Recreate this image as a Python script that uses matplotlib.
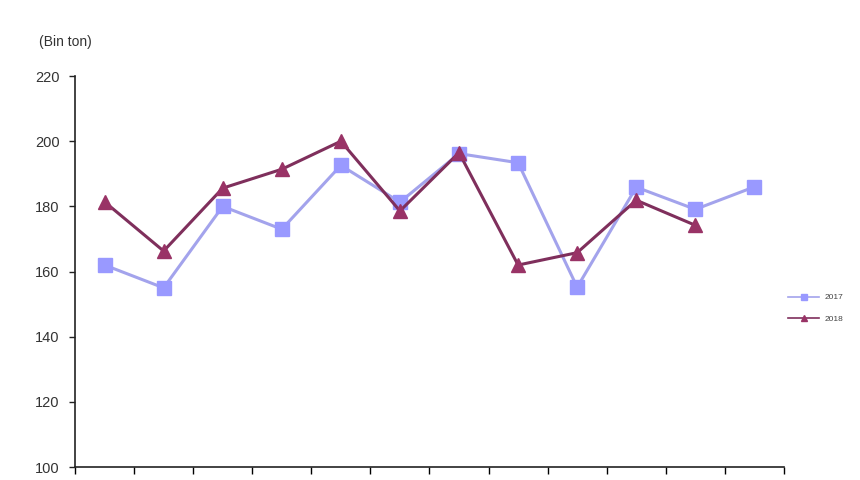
import numpy as np
import matplotlib
matplotlib.use('Agg')
import matplotlib.pyplot as plt

plt.rcParams['font.family'] = ['Liberation Sans', 'DejaVu Sans']

# Monthly output (Bin ton)
months = ['T1', 'T2', 'T3', 'T4', 'T5', 'T6', 'T7', 'T8', 'T9', 'T10', 'T11', 'T12']
values_2017 = [162, 155, 180, 173, 192.6, 181.3, 196.2, 193.4, 155.2, 185.9, 179.1, 186]
values_2018 = [181.4, 166.3, 185.6, 191.4, 200, 178.6, 196.5, 162, 165.8, 181.9, 174.2]

fig = plt.figure(figsize=(8.6, 4.8), dpi=100)
ax = fig.add_axes([0.0872, 0.027, 0.8244, 0.8145])

x17 = np.arange(len(values_2017))
x18 = np.arange(len(values_2018))

ax.plot(x17, values_2017, color='#A3A3EC', lw=2.2, marker='s', ms=10.5,
        mfc='#9999FF', mec='#9999FF', label='2017')
ax.plot(x18, values_2018, color='#7F2F5C', lw=2.2, marker='^', ms=10,
        mfc='#993366', mec='#993366', label='2018')

ax.set_xlim(-0.5, len(months) - 0.5)
ax.set_ylim(100, 220)
ax.set_yticks(np.arange(100, 221, 20))
ax.set_xticks(np.arange(-0.5, len(months), 1.0))
ax.set_xticklabels([])
ax.tick_params(axis='y', direction='out', length=4, width=1, labelsize=10.5,
               colors='#222222', labelcolor='#333333', pad=7)
ax.tick_params(axis='x', direction='out', length=5, width=1)
for side in ('top', 'right'):
    ax.spines[side].set_visible(False)
for side in ('left', 'bottom'):
    ax.spines[side].set_linewidth(1.2)
    ax.spines[side].set_color('#222222')

fig.text(0.045, 0.905, '(Bin ton)', fontsize=10, color='#333333')

leg = fig.legend(loc='center left', bbox_to_anchor=(0.908, 0.358),
                 frameon=False, fontsize=6, handlelength=3.7, handletextpad=0.6,
                 labelspacing=1.6, markerscale=0.45)
for line in leg.get_lines():
    line.set_linewidth(1.2)
for t in leg.get_texts():
    t.set_color('#444444')

fig.savefig('out.png', dpi=100)
